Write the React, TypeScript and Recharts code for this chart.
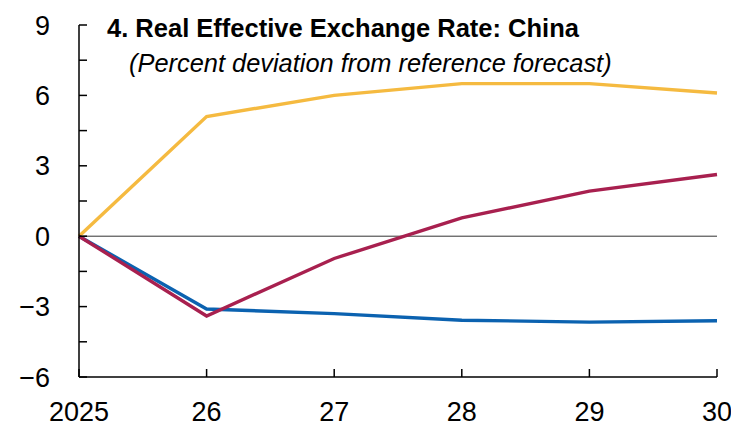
import React from 'react';
import { LineChart, Line, XAxis, YAxis, ReferenceLine } from 'recharts';

const years = ['2025', '26', '27', '28', '29', '30'];
const yellowSeries = [0, 5.1, 6.0, 6.5, 6.5, 6.1];
const crimsonSeries = [0, -3.4, -0.95, 0.78, 1.92, 2.63];
const blueSeries = [0, -3.1, -3.3, -3.58, -3.66, -3.6];
const yTicks = [-6, -4.5, -3, -1.5, 0, 1.5, 3, 4.5, 6, 7.5, 9];

const data = years.map((y, i) => ({
  year: y,
  yellow: yellowSeries[i],
  crimson: crimsonSeries[i],
  blue: blueSeries[i],
}));

const FONT = '"Liberation Sans", Arial, sans-serif';

const fmtY = (v: number) => {
  if (v % 3 !== 0) return '';
  return v < 0 ? '\u2212' + Math.abs(v) : String(v);
};

export default function App() {
  return (
    <div style={{ position: 'absolute', left: 0, top: 0, width: 731, height: 427, background: '#fff' }}>
      <LineChart
        width={731}
        height={427}
        data={data}
        margin={{ top: 25, right: 14, bottom: 0, left: 0 }}
        style={{ overflow: 'visible' }}
      >
        <XAxis
          dataKey="year"
          height={50}
          axisLine={{ stroke: '#000', strokeWidth: 1.5 }}
          tickLine={{ stroke: '#000', strokeWidth: 1.5 }}
          tickSize={-8}
          tickMargin={33}
          tick={{ fill: '#000', fontSize: 27, fontFamily: FONT }}
          interval={0}
        />
        <YAxis
          width={79}
          domain={[-6, 9]}
          ticks={yTicks}
          interval={0}
          tickFormatter={fmtY}
          axisLine={{ stroke: '#000', strokeWidth: 1.5 }}
          tickLine={{ stroke: '#000', strokeWidth: 1.5 }}
          tickSize={-8}
          tickMargin={37}
          tick={{ fill: '#000', fontSize: 27, fontFamily: FONT }}
        />
        <ReferenceLine y={0} stroke="#333" strokeWidth={1} />
        <Line dataKey="yellow" stroke="#F5BA40" strokeWidth={3.4} dot={false} isAnimationActive={false} />
        <Line dataKey="blue" stroke="#0B62B0" strokeWidth={3.4} dot={false} isAnimationActive={false} />
        <Line dataKey="crimson" stroke="#A8204F" strokeWidth={3.4} dot={false} isAnimationActive={false} />
      </LineChart>
      <div
        style={{
          position: 'absolute',
          left: 107,
          top: 11,
          fontFamily: FONT,
          fontWeight: 'bold',
          fontSize: 25.5,
          color: '#000',
          whiteSpace: 'nowrap',
          lineHeight: '34px',
        }}
      >
        4. Real Effective Exchange Rate: China
      </div>
      <div
        style={{
          position: 'absolute',
          left: 129,
          top: 46,
          fontFamily: FONT,
          fontStyle: 'italic',
          fontSize: 25.4,
          color: '#000',
          whiteSpace: 'nowrap',
          lineHeight: '34px',
        }}
      >
        (Percent deviation from reference forecast)
      </div>
    </div>
  );
}
